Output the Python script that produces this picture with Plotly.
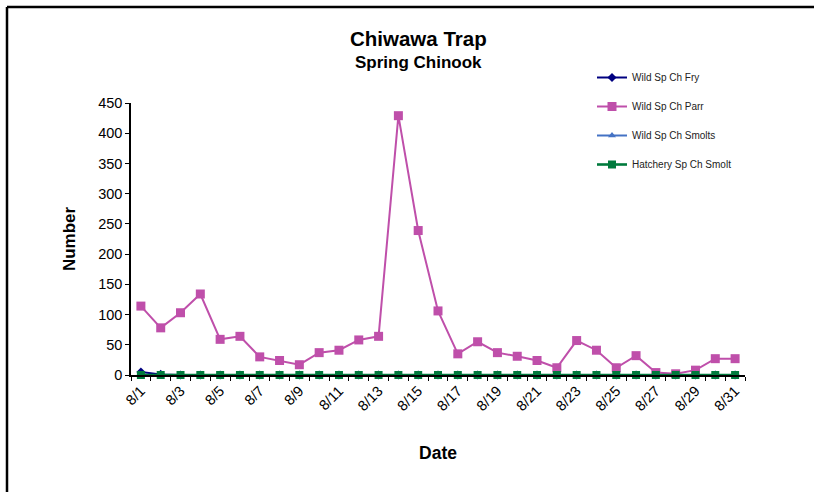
import plotly.graph_objects as go

dates = [f"8/{d}" for d in range(1, 32)]
wild_fry = [5, 1] + [0] * 29
wild_parr = [114, 78, 103, 134, 59, 64, 30, 24, 17, 37, 41, 58, 64, 429, 239, 106,
             35, 55, 37, 31, 24, 12, 57, 41, 12, 32, 4, 2, 8, 27, 27]
wild_smolts = [0] * 31
hatchery_smolt = [0] * 31

FONT = "Liberation Sans, Arial, sans-serif"
L, R, T, B = 131, 745, 103, 375
W, H = 814, 492

def px_x(p):
    return (p - L) / (R - L)

def px_y(p):
    return (B - p) / (B - T)

x = list(range(len(dates)))

fig = go.Figure()
fig.add_trace(go.Scatter(x=x, y=wild_fry, name="Wild Sp Ch Fry", mode="lines+markers",
                         line=dict(color="#000080", width=2), cliponaxis=False,
                         marker=dict(symbol="diamond", size=7, color="#000080"),
                         legendgroup="a"))
fig.add_trace(go.Scatter(x=x, y=wild_parr, name="Wild Sp Ch Parr", mode="lines+markers",
                         line=dict(color="#BF4FAA", width=2), cliponaxis=False,
                         marker=dict(symbol="square", size=9, color="#BF4FAA"),
                         legendgroup="b"))
fig.add_trace(go.Scatter(x=x, y=wild_smolts, name="Wild Sp Ch Smolts", mode="lines+markers",
                         line=dict(color="#4472C4", width=2), cliponaxis=False,
                         marker=dict(symbol="triangle-up", size=7, color="#4472C4"),
                         legendgroup="c"))
fig.add_trace(go.Scatter(x=x, y=hatchery_smolt, name="Hatchery Sp Ch Smolt", mode="lines+markers",
                         line=dict(color="#007A3D", width=2.6), cliponaxis=False,
                         marker=dict(symbol="square", size=8, color="#007A3D"),
                         legendgroup="d"))

fig.update_layout(
    width=W, height=H,
    margin=dict(l=L, r=W - R, t=T, b=H - B),
    paper_bgcolor="white", plot_bgcolor="white",
    font=dict(family=FONT, color="black", size=14),
    showlegend=True,
    legend=dict(x=px_x(592), y=px_y(63), xanchor="left", yanchor="top",
                font=dict(family=FONT, size=10, color="#222"),
                tracegroupgap=10, bgcolor="rgba(0,0,0,0)", itemwidth=30),
    xaxis=dict(range=[-0.5, len(dates) - 0.5], tickmode="array",
               tickvals=x[::2], ticktext=dates[::2], tickangle=-45,
               ticks="", showline=True, linecolor="black", linewidth=1.5,
               showgrid=False, zeroline=False,
               tickfont=dict(size=14.5, family=FONT),
               minor=dict(tickmode="linear", tick0=0.5, dtick=1, ticks="outside",
                          ticklen=4, tickcolor="black", showgrid=False),
               title=dict(text="<b>Date</b>", font=dict(size=17.5, family=FONT), standoff=34)),
    yaxis=dict(range=[0, 450], dtick=50, ticks="outside", ticklen=4, tickcolor="black",
               showline=True, linecolor="black", linewidth=1.5, showgrid=False,
               zeroline=False, tickfont=dict(size=14.5, family=FONT),
               title=dict(text="<b>Number</b>", font=dict(size=17, family=FONT), standoff=18)),
)

fig.add_annotation(text="<b>Chiwawa Trap</b>", xref="paper", yref="paper",
                   x=px_x(418), y=px_y(39), yanchor="middle", showarrow=False,
                   font=dict(size=20.5, family=FONT, color="black"))
fig.add_annotation(text="<b>Spring Chinook</b>", xref="paper", yref="paper",
                   x=px_x(418), y=px_y(62), yanchor="middle", showarrow=False,
                   font=dict(size=17, family=FONT, color="black"))

# outer chart frame (top and left edges visible)
fig.add_shape(type="line", xref="paper", yref="paper",
              x0=px_x(7), y0=px_y(7), x1=px_x(830), y1=px_y(7),
              line=dict(color="black", width=2.5))
fig.add_shape(type="line", xref="paper", yref="paper",
              x0=px_x(7), y0=px_y(7), x1=px_x(7), y1=px_y(510),
              line=dict(color="black", width=2.5))

fig.write_html("out.html", config={"displayModeBar": False},
               post_script="document.body.style.margin='0';")
